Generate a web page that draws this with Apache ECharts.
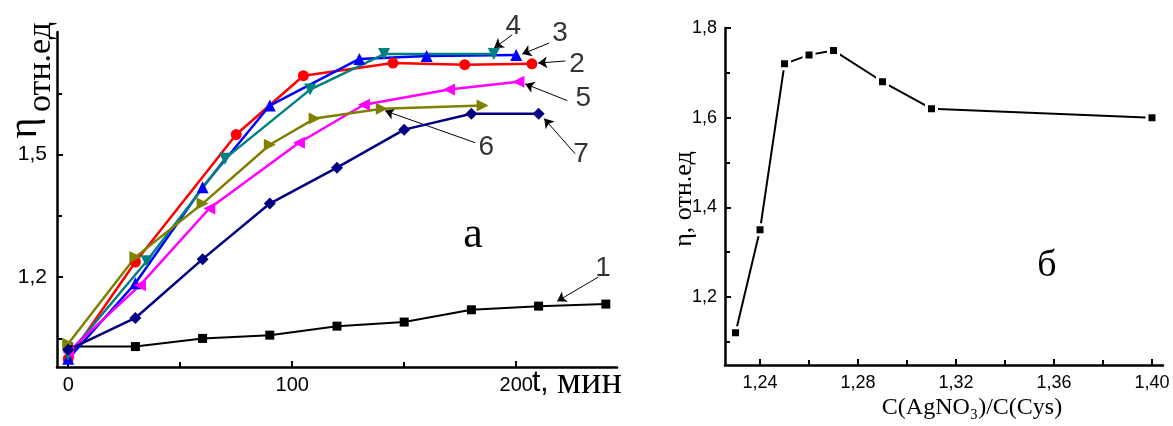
<!DOCTYPE html>
<html>
<head>
<meta charset="utf-8">
<script src="https://cdn.jsdelivr.net/npm/echarts@6/dist/echarts.min.js"></script>
<style>
  html, body { margin: 0; padding: 0; background: #fff; }
  #chart { width: 1173px; height: 426px; }
</style>
</head>
<body>
<div id="chart"></div>
<script>
// ---- Panel а: relative viscosity vs time, curves 1–7 ([t, η]) ----
const curve1 = [[0, 1.03], [30, 1.03], [60, 1.05], [90, 1.058], [120, 1.08], [150, 1.09], [180, 1.12], [210, 1.129], [240, 1.134]];
const curve2 = [[0, 1.00], [30, 1.237], [75, 1.549], [105, 1.693], [145, 1.724], [177, 1.72], [207, 1.722]];
const curve3 = [[0, 1.00], [30, 1.185], [60, 1.42], [90, 1.62], [130, 1.734], [160, 1.741], [200, 1.744]];
const curve4 = [[0, 1.01], [35, 1.239], [70, 1.49], [108, 1.659], [141, 1.746], [190, 1.746]];
const curve5 = [[0, 1.017], [32, 1.18], [63, 1.368], [103, 1.529], [132, 1.622], [170, 1.659], [201, 1.678]];
const curve6 = [[0, 1.037], [30, 1.249], [60, 1.38], [90, 1.524], [110, 1.588], [140, 1.612], [185, 1.62]];
const curve7 = [[0, 1.022], [30, 1.10], [60, 1.244], [90, 1.38], [120, 1.468], [150, 1.561], [180, 1.60], [210, 1.60]];

const timeTicks = [0, 100, 200];
const timeMinorTicks = [50, 150];
const etaTicksA = [1.2, 1.5];
const etaMinorTicksA = [1.05, 1.35, 1.65];

// curve numbers with their pointer arrows (data units of panel а)
const curveNames = ['1', '2', '3', '4', '5', '6', '7'];
const namePos = [[238.8, 1.222], [227.2, 1.722], [219.6, 1.798], [198.7, 1.815], [229.9, 1.637], [186.6, 1.517], [229.0, 1.500]];
const arrowFrom = [[236.6, 1.200], [221.9, 1.729], [214.7, 1.773], [198.2, 1.793], [222.8, 1.632], [181.7, 1.529], [226.3, 1.502]];
const arrowTo = [[218.3, 1.141], [209.8, 1.724], [202.7, 1.746], [190.2, 1.761], [204.0, 1.673], [141.5, 1.607], [212.5, 1.588]];

// ---- Panel б: viscosity vs C(AgNO3)/C(Cys) ----
const ratio = [1.23, 1.24, 1.25, 1.26, 1.27, 1.29, 1.31, 1.40];
const etaB = [1.12, 1.35, 1.72, 1.74, 1.75, 1.68, 1.62, 1.60];
const ratioTicks = [1.24, 1.28, 1.32, 1.36, 1.40];
const ratioMinorTicks = [1.26, 1.30, 1.34, 1.38];
const etaTicksB = [1.2, 1.4, 1.6, 1.8];
const etaMinorTicksB = [1.1, 1.3, 1.5, 1.7];

const SANS = '"Liberation Sans", Arial, sans-serif';
const SERIF = '"Liberation Serif", "Times New Roman", serif';
const comma = d => v => v.toFixed(d).replace('.', ',');

function mainAxis(base, ticks, digits, fontSize, margin) {
  return Object.assign({
    type: 'value',
    splitLine: { show: false },
    axisLine: { show: true, onZero: false, lineStyle: { color: '#000', width: 2.5 } },
    axisTick: { show: true, inside: true, length: 6, customValues: ticks, lineStyle: { color: '#000', width: 2 } },
    axisLabel: { show: true, customValues: ticks, formatter: comma(digits), color: '#000', fontSize: fontSize, fontFamily: SANS, margin: margin }
  }, base);
}
// a second axis on the same side that carries only the short intermediate ticks
function minorAxis(base, ticks) {
  return Object.assign({
    type: 'value',
    offset: 0,
    splitLine: { show: false },
    axisLine: { show: false, onZero: false },
    axisTick: { show: true, inside: true, length: 5, customValues: ticks, lineStyle: { color: '#000', width: 2 } },
    axisLabel: { show: false }
  }, base);
}

function curve(data, color, symbol, size, rotate, width) {
  return {
    type: 'line', xAxisIndex: 0, yAxisIndex: 0, data: data,
    symbol: symbol, symbolSize: size, symbolRotate: rotate || 0,
    lineStyle: { color: color, width: width || 2.5 },
    itemStyle: { color: color }, emphasis: { disabled: true }
  };
}

const chart = echarts.init(document.getElementById('chart'), null, { renderer: 'canvas' });
chart.setOption({
  animation: false,
  backgroundColor: '#fff',
  grid: [
    { left: 57, top: 32, width: 560, height: 335 },
    { left: 725, top: 28, width: 438, height: 337 }
  ],
  xAxis: [
    mainAxis({ gridIndex: 0, position: 'bottom', min: -5, max: 245 }, timeTicks, 0, 20, 8),
    minorAxis({ gridIndex: 0, position: 'bottom', min: -5, max: 245 }, timeMinorTicks),
    mainAxis({ gridIndex: 1, position: 'bottom', min: 1.2257, max: 1.4045 }, ratioTicks, 2, 18, 9),
    minorAxis({ gridIndex: 1, position: 'bottom', min: 1.2257, max: 1.4045 }, ratioMinorTicks)
  ],
  yAxis: [
    mainAxis({ gridIndex: 0, position: 'left', min: 0.98, max: 1.8 }, etaTicksA, 1, 21, 10),
    minorAxis({ gridIndex: 0, position: 'left', min: 0.98, max: 1.8 }, etaMinorTicksA),
    mainAxis({ gridIndex: 1, position: 'left', min: 1.048, max: 1.8 }, etaTicksB, 1, 18, 8),
    minorAxis({ gridIndex: 1, position: 'left', min: 1.048, max: 1.8 }, etaMinorTicksB)
  ],
  series: [
    curve(curve1, '#000000', 'rect', 9, 0, 2),
    curve(curve2, '#ff0000', 'circle', 11),
    curve(curve3, '#0000ff', 'triangle', 12),
    curve(curve4, '#008080', 'triangle', 12, 180),
    curve(curve5, '#ff00ff', 'triangle', 12, 90),
    curve(curve6, '#808000', 'triangle', 12, -90),
    curve(curve7, '#000080', 'diamond', 12),
    {
      type: 'lines', coordinateSystem: 'cartesian2d', xAxisIndex: 0, yAxisIndex: 0,
      symbol: ['none', 'arrow'], symbolSize: 9, silent: true, clip: false,
      lineStyle: { color: '#000', width: 1, opacity: 1 },
      data: arrowFrom.map((p, i) => ({ coords: [p, arrowTo[i]] }))
    },
    {
      type: 'scatter', xAxisIndex: 0, yAxisIndex: 0, silent: true, clip: false,
      symbolSize: 1, itemStyle: { color: 'rgba(0,0,0,0)' },
      label: { show: true, position: 'inside', formatter: '{b}', color: '#000', fontSize: 28, fontFamily: SANS },
      data: curveNames.map((n, i) => ({ name: n, value: namePos[i] }))
    },
    {
      type: 'line', xAxisIndex: 2, yAxisIndex: 2,
      data: ratio.map((r, i) => [r, etaB[i]]),
      symbol: 'rect', symbolSize: 10,
      lineStyle: { color: '#000', width: 2 },
      itemStyle: { color: '#000', borderColor: '#fff', borderWidth: 3 },
      emphasis: { disabled: true }
    }
  ],
  graphic: [
    { type: 'text', x: 25, y: 128, rotation: Math.PI / 2, silent: true,
      style: { text: 'η', font: '40px ' + SERIF, fill: '#000', align: 'center', verticalAlign: 'middle' } },
    { type: 'text', x: 41, y: 67, rotation: Math.PI / 2, silent: true,
      style: { text: 'отн.ед', font: '34px ' + SERIF, fill: '#000', align: 'center', verticalAlign: 'middle' } },
    { type: 'text', x: 532, y: 383, silent: true,
      style: { text: '{a|t, }{b|мин}', align: 'left', verticalAlign: 'middle',
        rich: { a: { font: '30px ' + SANS, fill: '#000' }, b: { font: '38px ' + SERIF, fill: '#000' } } } },
    { type: 'text', x: 473, y: 235, silent: true,
      style: { text: 'а', font: '44px ' + SERIF, fill: '#000', align: 'center', verticalAlign: 'middle' } },
    { type: 'text', x: 1047, y: 266, silent: true,
      style: { text: 'б', font: '38px ' + SERIF, fill: '#000', align: 'center', verticalAlign: 'middle' } },
    { type: 'text', x: 684, y: 199, rotation: Math.PI / 2, silent: true,
      style: { text: 'η, отн.ед', font: '26px ' + SERIF, fill: '#000', align: 'center', verticalAlign: 'middle' } },
    { type: 'text', x: 972, y: 408, silent: true,
      style: { text: 'C(AgNO₃)/C(Cys)', font: '24px ' + SERIF, fill: '#000', align: 'center', verticalAlign: 'middle' } }
  ]
});
</script>
</body>
</html>
